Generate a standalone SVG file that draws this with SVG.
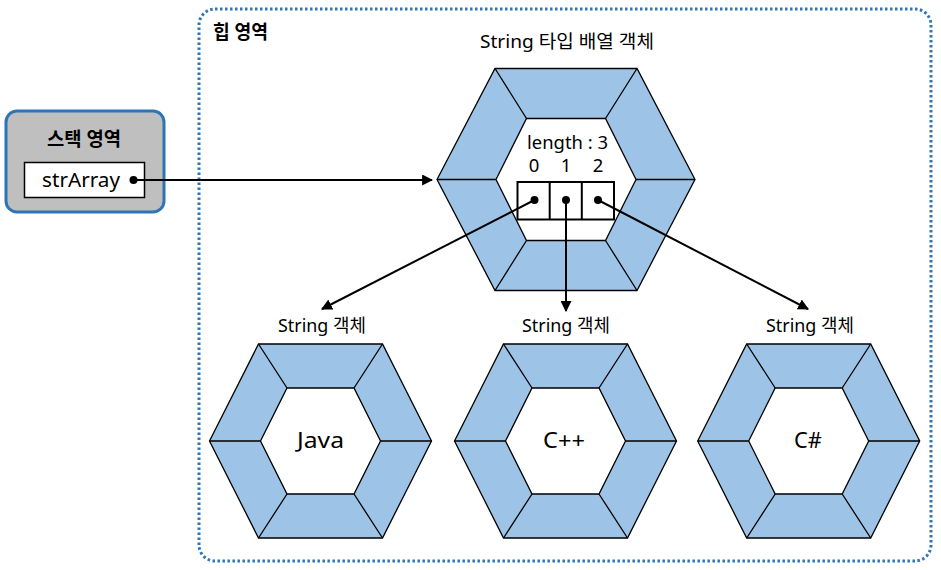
<svg xmlns="http://www.w3.org/2000/svg" xmlns:xlink="http://www.w3.org/1999/xlink" width="941" height="570" viewBox="0 0 941 570">
<style>
text{font-family:"Noto Sans","Noto Sans CJK KR",sans-serif;fill:#000}
.lbl{font-size:18.5px;text-anchor:middle}
.big{font-size:22px;text-anchor:middle}
.bold{font-size:19px;font-weight:bold}
.band{fill:#9DC3E6;stroke:#000;stroke-width:1.3}
.hole{fill:#fff;stroke:#000;stroke-width:1.3}
.div{stroke:#000;stroke-width:1.3}
.conn{stroke:#000;stroke-width:2;fill:none}
</style>
<defs>
<marker id="ah" viewBox="0 0 10 10" refX="9" refY="5" markerWidth="5.5" markerHeight="5.5" orient="auto" markerUnits="strokeWidth">
<path d="M0,0 L10,5 L0,10 z" fill="#000"/>
</marker>
<g id="shex">
<polygon class="band" points="-111,0 -62,-97 62,-97 111,0 62,97 -62,97"/>
<polygon class="hole" points="-60,0 -33.5,-53 33.5,-53 60,0 33.5,53 -33.5,53"/>
<path class="div" d="M-111,0H-60M111,0H60M-62,-97L-33.5,-53M62,-97L33.5,-53M-62,97L-33.5,53M62,97L33.5,53"/>
</g>
</defs>
<g id="heap">
<rect x="199" y="9" width="732" height="552" rx="16" fill="none" stroke="#2E75B6" stroke-width="3" stroke-dasharray="2.5 2.5"/>
<text class="bold" x="213" y="39" textLength="55" lengthAdjust="spacingAndGlyphs">힙 영역</text>
</g>
<g id="stack">
<rect x="6" y="111" width="158" height="101" rx="11" fill="#BFBFBF" stroke="#2E75B6" stroke-width="3"/>
<text class="bold" x="84" y="146" text-anchor="middle" textLength="74" lengthAdjust="spacingAndGlyphs">스택 영역</text>
<rect x="24.5" y="162.5" width="120" height="35" fill="#fff" stroke="#000" stroke-width="1.5"/>
<text x="81" y="187" font-size="19" text-anchor="middle" textLength="78" lengthAdjust="spacingAndGlyphs">strArray</text>
<circle cx="133.5" cy="180" r="4" fill="#000"/>
</g>
<g id="array">
<text class="lbl" x="567" y="48" textLength="174" lengthAdjust="spacingAndGlyphs">String 타입 배열 객체</text>
<polygon class="band" points="437,179.5 495,68.5 637,68.5 695,179.5 637,290.5 495,290.5"/>
<polygon class="hole" points="496,179.5 526.5,118.5 605.5,118.5 636,179.5 605.5,240.5 526.5,240.5"/>
<path class="div" d="M437,179.5H496M695,179.5H636M495,68.5L526.5,118.5M637,68.5L605.5,118.5M495,290.5L526.5,240.5M637,290.5L605.5,240.5"/>
<text class="lbl" x="567.5" y="149" textLength="81" lengthAdjust="spacingAndGlyphs">length : 3</text>
<text class="lbl" x="534" y="172">0</text>
<text class="lbl" x="566" y="172">1</text>
<text class="lbl" x="598" y="172">2</text>
<rect x="517.5" y="182" width="96.5" height="37.5" fill="#fff" stroke="#000" stroke-width="2"/>
<path d="M549.7,182V219.5M581.8,182V219.5" stroke="#000" stroke-width="2"/>
<circle cx="534.5" cy="200" r="4" fill="#000"/>
<circle cx="566" cy="200" r="4" fill="#000"/>
<circle cx="598" cy="200" r="4" fill="#000"/>
</g>
<g id="java">
<text class="lbl" x="322" y="332" textLength="88" lengthAdjust="spacingAndGlyphs">String 객체</text>
<use xlink:href="#shex" href="#shex" x="320.5" y="441"/>
<text class="big" x="320.5" y="448" textLength="47" lengthAdjust="spacingAndGlyphs">Java</text>
</g>
<g id="cpp">
<text class="lbl" x="566" y="332" textLength="88" lengthAdjust="spacingAndGlyphs">String 객체</text>
<use xlink:href="#shex" href="#shex" x="565.5" y="441"/>
<text class="big" x="564" y="448" textLength="42" lengthAdjust="spacingAndGlyphs">C++</text>
</g>
<g id="csharp">
<text class="lbl" x="810" y="332" textLength="88" lengthAdjust="spacingAndGlyphs">String 객체</text>
<use xlink:href="#shex" href="#shex" x="808.7" y="441"/>
<text class="big" x="808" y="448" textLength="28" lengthAdjust="spacingAndGlyphs">C#</text>
</g>
<g id="connectors">
<line class="conn" x1="133.5" y1="180" x2="432" y2="180" marker-end="url(#ah)"/>
<line class="conn" x1="534.5" y1="200" x2="322" y2="309" marker-end="url(#ah)"/>
<line class="conn" x1="566" y1="200" x2="566" y2="311" marker-end="url(#ah)"/>
<line class="conn" x1="598" y1="200" x2="808" y2="309" marker-end="url(#ah)"/>
</g>
</svg>
